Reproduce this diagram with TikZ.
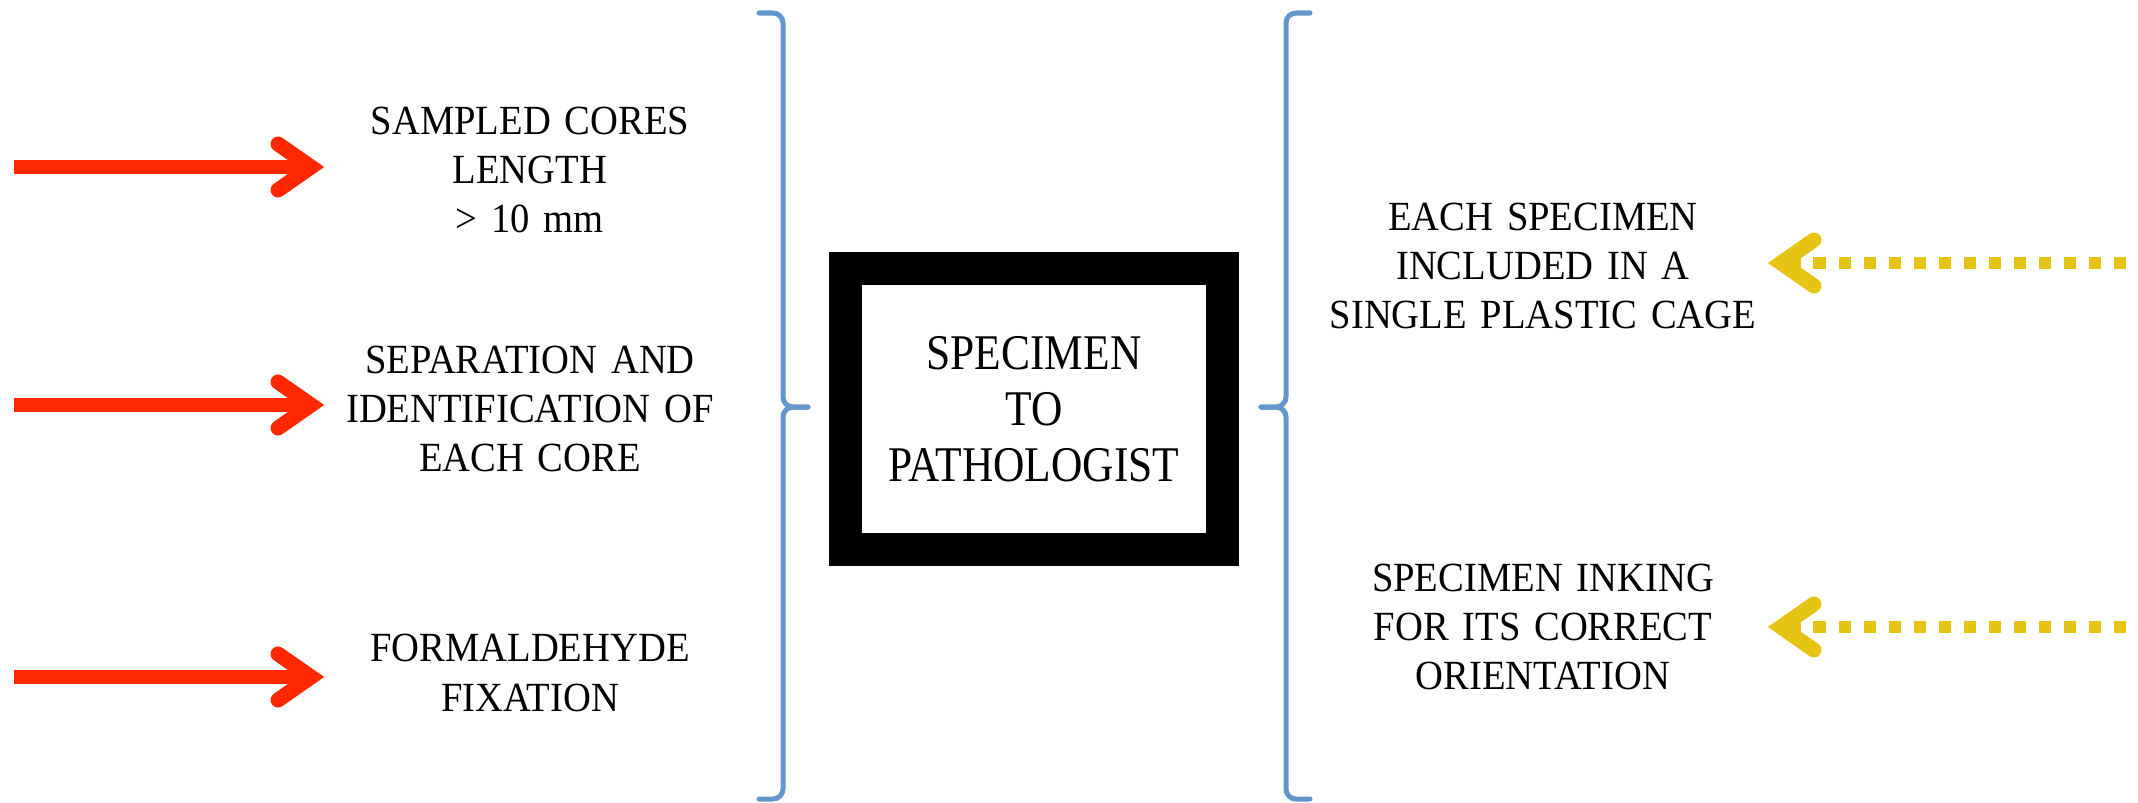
\documentclass[tikz,border=0pt]{standalone}
\usepackage{fontspec}
\setmainfont{Liberation Serif}
\newfontfamily\stepfont[FakeStretch=0.93]{Liberation Serif}
\newfontfamily\boxfont[FakeStretch=0.87]{Liberation Serif}
\usepackage{xcolor}
\definecolor{colorInput}{RGB}{255,40,0}
\definecolor{colorLab}{RGB}{230,196,20}
\definecolor{colorBrace}{RGB}{98,150,204}
\usetikzlibrary{arrows.meta, positioning}
\tikzset{
  stepnode/.style={align=center, text width=3.8cm, inner sep=0pt, font=\stepfont\fontsize{11.8}{14}\selectfont},
  labnode/.style={align=center, text width=4.3cm, inner sep=0pt, font=\stepfont\fontsize{11.8}{14}\selectfont},
  boxnode/.style={draw, line width=0.33cm, minimum width=3.775cm, minimum height=2.805cm, align=center, font=\boxfont\fontsize{14.2}{15.9}\selectfont},
  chevron/.tip={Straight Barb[length=0.33cm, width=0.46cm, line width=0.15cm, line cap=round, line join=miter]},
  inarrow/.style={-chevron, colorInput, line width=0.14cm, shorten >=0.15cm},
  labarrow/.style={chevron-, colorLab, line width=0.12cm, dash pattern=on 0.125cm off 0.125cm, shorten <=0.09cm},
  bracepath/.style={draw=colorBrace, line width=0.05cm, rounded corners=0.1cm, line cap=round}
}
\begin{document}
\begin{tikzpicture}[x=0.01cm, y=-0.01cm]
\useasboundingbox (0,0) rectangle (2138,803);
\node[stepnode] (core) at (530,170) {SAMPLED CORES\\LENGTH\\> 10 mm};
\node[stepnode] (sep) at (530,409) {SEPARATION AND\\IDENTIFICATION OF\\EACH CORE};
\node[stepnode] (fix) at (530,673) {FORMALDEHYDE\\FIXATION};
\node[boxnode] (spec) at (1034,409) {SPECIMEN\\TO\\PATHOLOGIST};
\node[labnode] (cage) at (1543,266) {EACH SPECIMEN\\INCLUDED IN A\\SINGLE PLASTIC CAGE};
\node[labnode] (ink) at (1543,627) {SPECIMEN INKING\\FOR ITS CORRECT\\ORIENTATION};
\coordinate (r1) at (14,167);
\coordinate (r2) at (14,405);
\coordinate (r3) at (14,677);
\coordinate (y1) at (2128,263);
\coordinate (y2) at (2128,627);
\draw[inarrow] (r1) -- (r1 -| core.west);
\draw[inarrow] (r2) -- (r2 -| sep.west);
\draw[inarrow] (r3) -- (r3 -| fix.west);
\draw[labarrow] (cage.east |- y1) -- (y1);
\draw[labarrow] (ink.east |- y2) -- (y2);
\draw[bracepath] (759,13) -- (783,13) -- (783,407) -- (808,407);
\draw[bracepath] (808,407) -- (783,407) -- (783,799) -- (759,799);
\draw[bracepath] (1310,13) -- (1286,13) -- (1286,407) -- (1261,407);
\draw[bracepath] (1261,407) -- (1286,407) -- (1286,799) -- (1310,799);
\end{tikzpicture}
\end{document}
